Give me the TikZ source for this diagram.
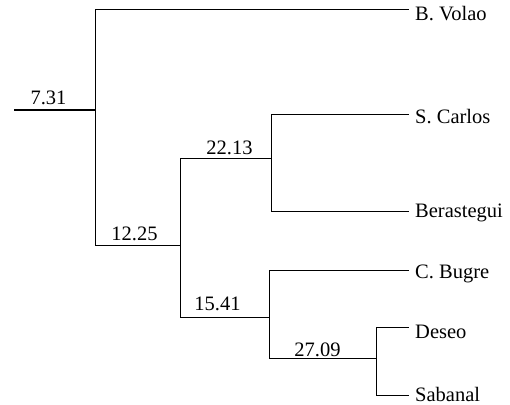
\documentclass[tikz,border=0pt]{standalone}
\usepackage{fontspec}
\setmainfont{Liberation Serif}
\begin{document}
\begin{tikzpicture}[x=1pt,y=-1pt,
  br/.style={line width=1pt,line cap=rect},
  rootbr/.style={line width=1.8pt},
  leaf/.style={anchor=base west,inner sep=0pt,font=\fontsize{20.5}{24}\selectfont},
  num/.style={anchor=base,inner sep=0pt,font=\fontsize{20.5}{24}\selectfont}]
\useasboundingbox (0,0) rectangle (510,404);
% junctions
\coordinate (root) at (14,110);
\coordinate (a0) at (95,110);
\coordinate (a1) at (180,245);
\coordinate (a2) at (271,158);
\coordinate (a3) at (269,317);
\coordinate (a4) at (376,358);
% tips
\coordinate (tVolao) at (408,10);
\coordinate (tCarlos) at (408,114);
\coordinate (tBeras) at (408,211);
\coordinate (tBugre) at (408,270);
\coordinate (tDeseo) at (408,327);
\coordinate (tSaba) at (408,395);
% leaf labels
\node[leaf] (lVolao) at (415,21) {B. Volao};
\node[leaf] (lCarlos) at (415,123) {S. Carlos};
\node[leaf] (lBeras) at (415,217) {Berastegui};
\node[leaf] (lBugre) at (415,278) {C. Bugre};
\node[leaf] (lDeseo) at (415,338) {Deseo};
\node[leaf] (lSaba) at (415,401) {Sabanal};
% branches
\draw[rootbr] (root) -- (a0);
\draw[br] (a0) |- (tVolao);
\draw[br] (a0) |- (a1);
\draw[br] (a1) |- (a2);
\draw[br] (a1) |- (a3);
\draw[br] (a2) |- (tCarlos);
\draw[br] (a2) |- (tBeras);
\draw[br] (a3) |- (tBugre);
\draw[br] (a3) |- (a4);
\draw[br] (a4) |- (tDeseo);
\draw[br] (a4) |- (tSaba);
% numbers
\node[num] (v0) at (48.5,104) {7.31};
\node[num] (v1) at (134.5,240.5) {12.25};
\node[num] (v2) at (229.5,154) {22.13};
\node[num] (v3) at (217.5,310) {15.41};
\node[num] (v4) at (317.5,356) {27.09};
\end{tikzpicture}
\end{document}
